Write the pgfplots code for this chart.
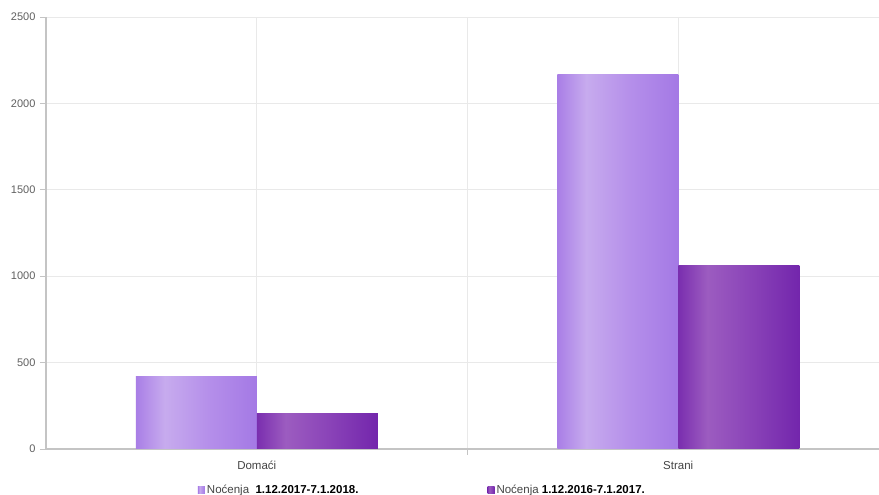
\documentclass[border=0pt]{standalone}
\usepackage{fontspec}
\setmainfont{Liberation Sans}
\usepackage{pgfplots}
\pgfplotsset{compat=1.18}

\definecolor{gridc}{HTML}{E9E9E9}
\definecolor{axisc}{HTML}{C4C4C4}
\definecolor{tickc}{HTML}{606060}
\definecolor{labc}{HTML}{444444}
\definecolor{cA0}{HTML}{A97EE6}
\definecolor{cA1}{HTML}{C7ABEE}
\definecolor{cA2}{HTML}{B58FEA}
\definecolor{cA3}{HTML}{A479E5}
\definecolor{cB0}{HTML}{7A2EAF}
\definecolor{cB1}{HTML}{9C5CC0}
\definecolor{cB2}{HTML}{8A43B8}
\definecolor{cB3}{HTML}{7326AC}
\definecolor{legA}{HTML}{A886E0}
\definecolor{legB}{HTML}{8547B0}

% glossy left-to-right gradients for the two series
\pgfdeclarehorizontalshading{barA}{100bp}{color(0bp)=(cA0); color(25bp)=(cA0); color(37bp)=(cA1); color(55bp)=(cA2); color(75bp)=(cA3); color(100bp)=(cA3)}
\pgfdeclarehorizontalshading{barB}{100bp}{color(0bp)=(cB0); color(25bp)=(cB0); color(37bp)=(cB1); color(55bp)=(cB2); color(75bp)=(cB3); color(100bp)=(cB3)}

\begin{document}
\begin{tikzpicture}
\useasboundingbox (0pt,0pt) rectangle (879pt,495pt);
\clip (0pt,0pt) rectangle (879pt,495pt);
\fill[white] (0pt,0pt) rectangle (879pt,495pt);
\begin{axis}[
  at={(46pt,46pt)}, anchor=south west,
  scale only axis, width=843pt, height=432pt,
  xmin=-0.5, xmax=1.5, ymin=0, ymax=2500,
  xtick={0,1}, xticklabels={Domaći,Strani},
  minor xtick={0.5},
  ytick={0,500,1000,1500,2000,2500},
  /pgf/number format/assume math mode=true,
  /pgf/number format/1000 sep={},
  grid=both,
  major grid style={draw=gridc, line width=0.8pt},
  minor grid style={draw=gridc, line width=0.8pt},
  axis x line*=bottom, axis y line*=left,
  axis line style={-, draw=axisc, line width=1.4pt},
  tick align=outside,
  major tick length=6pt, minor tick length=6pt,
  every major x tick/.append style={draw=none},
  every minor x tick/.append style={draw=axisc, line width=0.8pt},
  every major y tick/.append style={draw=axisc, line width=0.8pt},
  yticklabel style={font=\fontsize{11}{13}\selectfont, text=tickc, xshift=-1pt},
  xticklabel style={font=\fontsize{11.5}{13}\selectfont, text=labc, yshift=-3pt},
  legend columns=2,
  legend style={at={(0.1765,-0.0950)}, anchor=west, draw=none, fill=none,
    font=\fontsize{11.5}{13}\selectfont, text=black,
    /tikz/every even column/.append style={column sep=127pt}},
  legend cell align=left,
  every axis plot/.append style={ybar, bar width=121pt, draw=none},
]
% each bar is its own plot so that every bar carries its own gradient
\addplot[shading=barA, bar shift=-60.5pt,
  legend image code/.code={\fill[legA] (0pt,-3.5pt) rectangle (7pt,3.5pt);}]
  coordinates {(0,418)};
\addlegendentry{\textcolor{labc}{Noćenja}\ \ \textbf{1.12.2017-7.1.2018.}}
\addplot[shading=barB, bar shift=60.5pt,
  legend image code/.code={\fill[legB] (0pt,-3.5pt) rectangle (7pt,3.5pt);}]
  coordinates {(0,203)};
\addlegendentry{\textcolor{labc}{Noćenja}\ \textbf{1.12.2016-7.1.2017.}}
\addplot[shading=barA, bar shift=-60.5pt, forget plot] coordinates {(1,2170)};
\addplot[shading=barB, bar shift=60.5pt, forget plot] coordinates {(1,1060)};
\end{axis}
\end{tikzpicture}
\end{document}
